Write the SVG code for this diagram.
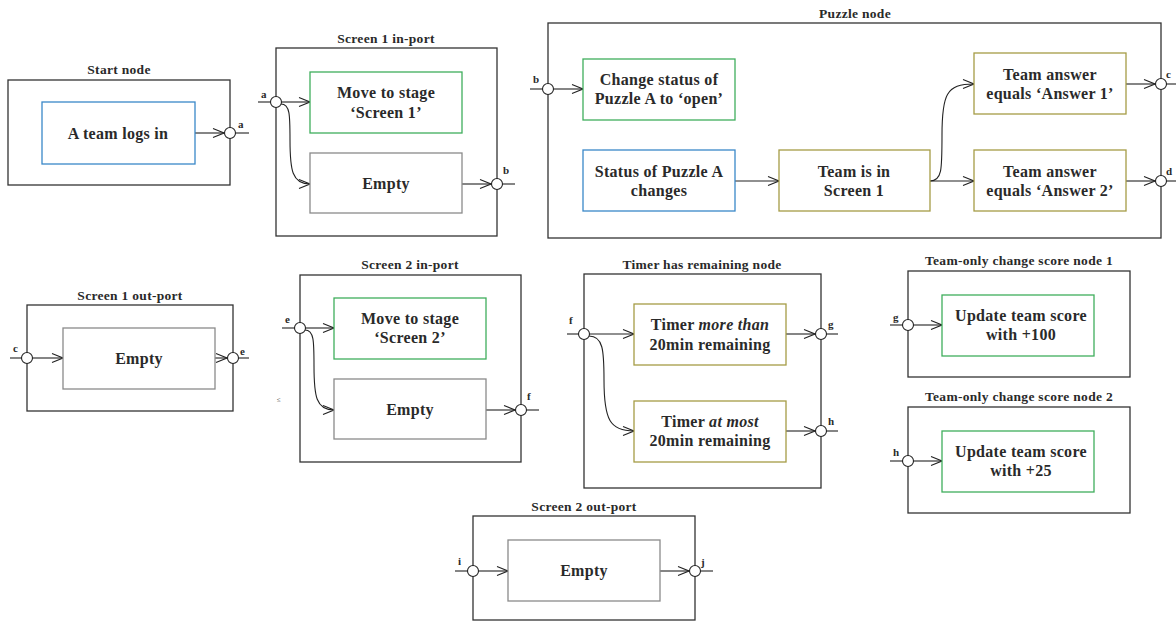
<svg xmlns="http://www.w3.org/2000/svg" width="1176" height="623" viewBox="0 0 1176 623">
<style>
.outer{fill:none;stroke:#333;stroke-width:1.3}
.blue{fill:#fff;stroke:#3a88c8;stroke-width:1.3}
.green{fill:#fff;stroke:#3fae5c;stroke-width:1.3}
.olive{fill:#fff;stroke:#a59c45;stroke-width:1.3}
.gray{fill:#fff;stroke:#8a8a8a;stroke-width:1.3}
.port{fill:#fff;stroke:#222;stroke-width:1.1}
.c{fill:none;stroke:#222;stroke-width:1.1}
.ca{fill:none;stroke:#222;stroke-width:1.1;marker-end:url(#ah)}
text{font-family:"Liberation Serif","DejaVu Serif",serif;font-weight:bold;fill:#2a2a2a}
.t{font-size:16px;text-anchor:middle;letter-spacing:0.3px}
.h{font-size:13.5px;text-anchor:middle;letter-spacing:0.3px}
.p{font-size:11px}
</style>
<defs>
<marker id="ah" markerWidth="13" markerHeight="12" refX="12" refY="6" orient="auto" markerUnits="userSpaceOnUse">
<path d="M1,1.5 L12,6 L1,10.5" fill="none" stroke="#222" stroke-width="1.1"/>
</marker>
</defs>

<g id="connectors">
<path class="ca" d="M195,133 H224"/>
<path class="c" d="M236,133 H249"/>
<path class="c" d="M258,102 H270"/>
<path class="ca" d="M282,102 H310"/>
<path class="ca" d="M281,104 C290,104 290,115 290,140 C290,170 292,184 310,184"/>
<path class="ca" d="M462,184 H491"/>
<path class="c" d="M503,184 H515"/>
<path class="c" d="M530,89 H542"/>
<path class="ca" d="M554,89 H583"/>
<path class="ca" d="M735,181 H779"/>
<path class="ca" d="M930,181 H974"/>
<path class="ca" d="M930,181 C942,181 942,170 942,135 C942,95 946,84 974,84"/>
<path class="ca" d="M1126,84 H1155"/>
<path class="c" d="M1167,84 H1176"/>
<path class="ca" d="M1126,181 H1155"/>
<path class="c" d="M1167,181 H1176"/>
<path class="c" d="M10,358 H21"/>
<path class="ca" d="M33,358 H63"/>
<path class="ca" d="M215,358 H227"/>
<path class="c" d="M239,358 H249"/>
<path class="c" d="M282,328 H294"/>
<path class="ca" d="M306,328 H334"/>
<path class="ca" d="M305,330 C314,330 314,341 314,366 C314,396 316,410 334,410"/>
<path class="ca" d="M486,410 H515"/>
<path class="c" d="M527,410 H539"/>
<path class="c" d="M567,334 H578"/>
<path class="ca" d="M590,334 H634"/>
<path class="ca" d="M589,336 C603,336 604,350 604,380 C604,420 610,431 634,431"/>
<path class="ca" d="M786,334 H815"/>
<path class="c" d="M827,334 H838"/>
<path class="ca" d="M786,431 H815"/>
<path class="c" d="M827,431 H838"/>
<path class="c" d="M890,325 H902"/>
<path class="ca" d="M914,325 H942"/>
<path class="c" d="M890,461 H902"/>
<path class="ca" d="M914,461 H942"/>
<path class="c" d="M455,571 H467"/>
<path class="ca" d="M479,571 H508"/>
<path class="ca" d="M660,571 H689"/>
<path class="c" d="M701,571 H713"/>
</g>

<g id="start-node">
<text class="h" x="119" y="74">Start node</text>
<rect class="outer" x="8" y="80" width="222" height="105"/>
<rect class="blue" x="42" y="102" width="153" height="62"/>
<text class="t" x="118" y="139">A team logs in</text>
<circle class="port" cx="230" cy="133" r="5.5"/>
<text class="p" x="238" y="128">a</text>
</g>

<g id="screen1-in-port">
<text class="h" x="386" y="43">Screen 1 in-port</text>
<rect class="outer" x="276" y="48" width="221" height="188"/>
<rect class="green" x="310" y="72" width="152" height="61"/>
<text class="t" x="386" y="98">Move to stage</text>
<text class="t" x="386" y="118">‘Screen 1’</text>
<rect class="gray" x="310" y="153" width="152" height="60"/>
<text class="t" x="386" y="189">Empty</text>
<circle class="port" cx="276" cy="102" r="5.5"/>
<text class="p" x="261" y="98">a</text>
<circle class="port" cx="497" cy="184" r="5.5"/>
<text class="p" x="503" y="174">b</text>
</g>

<g id="puzzle-node">
<text class="h" x="855" y="18">Puzzle node</text>
<rect class="outer" x="548" y="23" width="613" height="215"/>
<rect class="green" x="583" y="59" width="152" height="61"/>
<text class="t" x="659" y="85">Change status of</text>
<text class="t" x="659" y="104">Puzzle A to ‘open’</text>
<rect class="blue" x="583" y="150" width="152" height="61"/>
<text class="t" x="659" y="177">Status of Puzzle A</text>
<text class="t" x="659" y="196">changes</text>
<rect class="olive" x="779" y="150" width="151" height="61"/>
<text class="t" x="854" y="177">Team is in</text>
<text class="t" x="854" y="196">Screen 1</text>
<rect class="olive" x="974" y="53" width="152" height="61"/>
<text class="t" x="1050" y="80">Team answer</text>
<text class="t" x="1050" y="99">equals ‘Answer 1’</text>
<rect class="olive" x="974" y="150" width="152" height="61"/>
<text class="t" x="1050" y="177">Team answer</text>
<text class="t" x="1050" y="196">equals ‘Answer 2’</text>
<circle class="port" cx="548" cy="89" r="5.5"/>
<text class="p" x="533" y="83">b</text>
<circle class="port" cx="1161" cy="84" r="5.5"/>
<text class="p" x="1166" y="78">c</text>
<circle class="port" cx="1161" cy="181" r="5.5"/>
<text class="p" x="1166" y="175">d</text>
</g>

<g id="screen1-out-port">
<text class="h" x="130" y="300">Screen 1 out-port</text>
<rect class="outer" x="27" y="305" width="206" height="106"/>
<rect class="gray" x="63" y="328" width="152" height="61"/>
<text class="t" x="139" y="364">Empty</text>
<circle class="port" cx="27" cy="358" r="5.5"/>
<text class="p" x="13" y="352">c</text>
<circle class="port" cx="233" cy="358" r="5.5"/>
<text class="p" x="240" y="355">e</text>
</g>

<g id="screen2-in-port">
<text class="h" x="410" y="269">Screen 2 in-port</text>
<rect class="outer" x="300" y="275" width="221" height="187"/>
<rect class="green" x="334" y="298" width="152" height="61"/>
<text class="t" x="410" y="324">Move to stage</text>
<text class="t" x="410" y="343">‘Screen 2’</text>
<rect class="gray" x="334" y="379" width="152" height="60"/>
<text class="t" x="410" y="415">Empty</text>
<circle class="port" cx="300" cy="328" r="5.5"/>
<text class="p" x="285" y="323">e</text>
<circle class="port" cx="521" cy="410" r="5.5"/>
<text class="p" x="527" y="400">f</text>
<text x="277" y="402" style="font-size:7px;font-weight:normal">≤</text>
</g>

<g id="timer-node">
<text class="h" x="702" y="269">Timer has remaining node</text>
<rect class="outer" x="584" y="274" width="237" height="214"/>
<rect class="olive" x="634" y="304" width="152" height="61"/>
<text class="t" x="710" y="330">Timer <tspan font-style="italic">more than</tspan></text>
<text class="t" x="710" y="350">20min remaining</text>
<rect class="olive" x="634" y="401" width="152" height="61"/>
<text class="t" x="710" y="427">Timer <tspan font-style="italic">at most</tspan></text>
<text class="t" x="710" y="446">20min remaining</text>
<circle class="port" cx="584" cy="334" r="5.5"/>
<text class="p" x="569" y="324">f</text>
<circle class="port" cx="821" cy="334" r="5.5"/>
<text class="p" x="828" y="328">g</text>
<circle class="port" cx="821" cy="431" r="5.5"/>
<text class="p" x="828" y="425">h</text>
</g>

<g id="score-node-1">
<text class="h" x="1019" y="265">Team-only change score node 1</text>
<rect class="outer" x="908" y="271" width="222" height="106"/>
<rect class="green" x="942" y="295" width="152" height="61"/>
<text class="t" x="1021" y="321">Update team score</text>
<text class="t" x="1021" y="340">with +100</text>
<circle class="port" cx="908" cy="325" r="5.5"/>
<text class="p" x="893" y="321">g</text>
</g>

<g id="score-node-2">
<text class="h" x="1019" y="401">Team-only change score node 2</text>
<rect class="outer" x="908" y="407" width="222" height="106"/>
<rect class="green" x="942" y="431" width="152" height="61"/>
<text class="t" x="1021" y="457">Update team score</text>
<text class="t" x="1021" y="476">with +25</text>
<circle class="port" cx="908" cy="461" r="5.5"/>
<text class="p" x="893" y="456">h</text>
</g>

<g id="screen2-out-port">
<text class="h" x="584" y="511">Screen 2 out-port</text>
<rect class="outer" x="473" y="516" width="222" height="104"/>
<rect class="gray" x="508" y="540" width="152" height="61"/>
<text class="t" x="584" y="576">Empty</text>
<circle class="port" cx="473" cy="571" r="5.5"/>
<text class="p" x="458" y="565">i</text>
<circle class="port" cx="695" cy="571" r="5.5"/>
<text class="p" x="701" y="566">j</text>
</g>
</svg>
